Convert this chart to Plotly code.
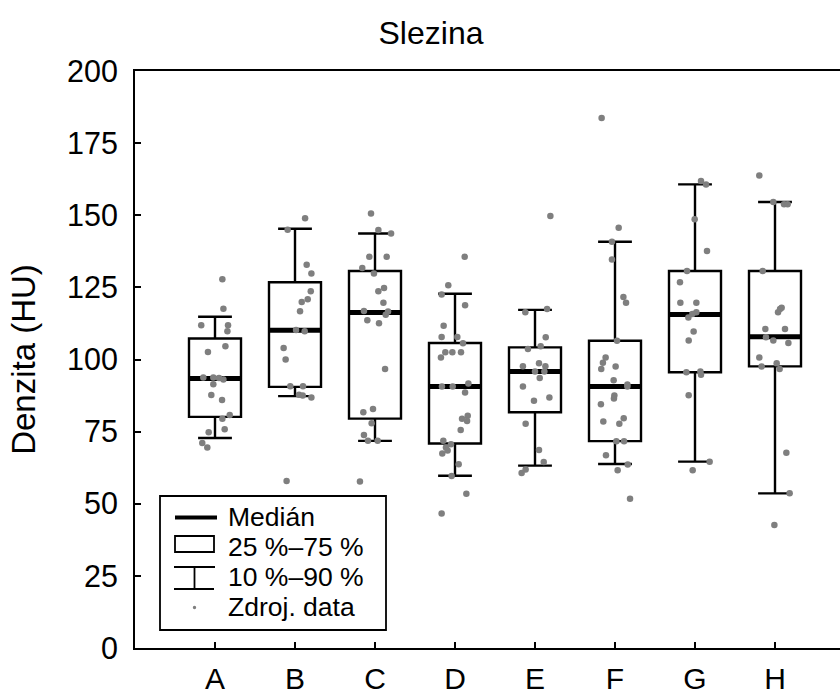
import plotly.graph_objects as go

# ---------------- data ----------------
categories = ["A", "B", "C", "D", "E", "F", "G", "H"]
q1 = [80.1, 90.5, 79.5, 70.9, 81.7, 71.7, 95.6, 97.6]
median = [93.4, 110.1, 116.3, 90.6, 95.8, 90.6, 115.6, 107.9]
q3 = [107.3, 126.8, 130.7, 105.7, 104.2, 106.5, 130.7, 130.7]
p10 = [72.8, 87.3, 71.8, 59.7, 63.2, 63.8, 64.6, 53.6]
p90 = [114.8, 145.3, 143.7, 122.8, 117.2, 140.8, 160.7, 154.6]

vals_A = [127.8, 117.6, 111.9, 111.9, 109.8, 104.6, 102.6, 93.8, 93.8, 93.6, 93.1, 91.4, 87.7, 86.0, 80.8, 79.5, 75.8, 74.8, 71.1, 69.5]
jit_A = [0.092, 0.105, -0.172, 0.163, 0.155, 0.130, -0.088, -0.146, -0.021, 0.050, 0.105, -0.021, -0.046, 0.088, 0.184, 0.092, 0.121, -0.079, -0.159, -0.096]

vals_B = [149.0, 145.0, 132.8, 129.8, 123.7, 120.9, 119.9, 116.7, 110.2, 109.8, 104.0, 100.0, 90.7, 90.7, 87.8, 87.5, 86.8, 57.9]
jit_B = [0.126, -0.092, 0.146, 0.205, 0.197, 0.159, 0.084, 0.063, 0.013, 0.121, -0.142, -0.117, -0.059, 0.100, 0.050, 0.096, 0.205, -0.105]

vals_C = [150.6, 144.9, 143.7, 135.6, 135.6, 131.7, 129.8, 124.8, 123.7, 119.7, 116.6, 115.5, 116.8, 113.6, 112.6, 96.7, 81.7, 82.8, 77.9, 73.8, 71.8, 71.8, 57.7]
jit_C = [-0.050, 0.042, 0.201, -0.071, 0.146, -0.159, -0.013, 0.113, 0.042, 0.105, 0.163, 0.134, -0.138, -0.096, 0.050, 0.126, -0.146, -0.025, -0.042, -0.138, -0.088, 0.033, -0.188]

vals_D = [135.6, 125.7, 122.5, 118.8, 111.7, 107.8, 107.8, 105.6, 100.7, 102.5, 102.5, 102.5, 90.6, 90.6, 91.7, 88.6, 80.5, 79.5, 78.7, 75.6, 71.8, 70.6, 69.5, 68.5, 67.4, 63.7, 59.6, 53.5, 46.6]
jit_D = [0.121, -0.084, -0.167, 0.126, -0.142, -0.167, 0.029, 0.100, -0.176, -0.121, -0.033, 0.075, -0.163, -0.029, 0.167, 0.126, 0.159, 0.088, 0.151, 0.071, -0.146, -0.050, -0.113, -0.092, -0.159, 0.046, -0.042, 0.142, -0.167]

vals_E = [149.7, 117.5, 116.4, 107.7, 104.6, 103.6, 97.7, 98.7, 97.7, 95.8, 95.8, 93.6, 90.6, 86.8, 85.7, 77.7, 68.6, 64.5, 61.9, 60.7]
jit_E = [0.192, 0.151, -0.121, 0.134, 0.071, -0.088, -0.151, 0.050, 0.130, 0.0, 0.117, 0.059, -0.151, 0.180, -0.013, -0.117, 0.050, 0.109, -0.117, -0.167]

vals_F = [183.7, 145.7, 140.8, 134.7, 121.7, 119.7, 106.5, 100.7, 98.9, 96.7, 97.6, 92.8, 91.3, 90.6, 87.5, 86.5, 84.5, 79.6, 78.5, 77.7, 71.7, 71.7, 66.8, 63.6, 61.6, 51.7]
jit_F = [-0.167, 0.046, -0.038, -0.038, 0.105, 0.138, 0.025, -0.117, -0.151, -0.172, 0.008, -0.017, 0.155, 0.155, -0.008, -0.013, -0.176, 0.109, -0.146, 0.054, 0.017, 0.113, -0.113, 0.159, 0.033, 0.188]

vals_G = [161.9, 160.7, 148.6, 137.6, 130.7, 126.8, 119.7, 119.7, 116.4, 115.8, 114.6, 109.7, 106.6, 95.6, 95.8, 94.7, 87.6, 64.6, 61.6]
jit_G = [0.075, 0.138, -0.004, 0.150, -0.100, -0.188, -0.183, 0.017, 0.017, -0.033, -0.083, -0.017, -0.079, -0.108, 0.067, 0.075, -0.079, 0.183, -0.029]

vals_H = [163.8, 154.6, 153.8, 153.8, 130.7, 117.5, 117.9, 116.4, 110.6, 110.6, 107.7, 106.6, 105.7, 100.7, 97.6, 98.7, 96.7, 67.7, 53.6, 42.6]
jit_H = [-0.196, -0.021, 0.113, 0.158, -0.154, 0.063, 0.083, 0.038, -0.121, 0.125, -0.113, -0.021, 0.167, -0.196, -0.167, 0.021, 0.058, 0.142, 0.183, -0.008]

y_ticks = [0, 25, 50, 75, 100, 125, 150, 175, 200]
legend_labels = ["Medián", "25 %\u201375 %", "10 %\u201390 %", "Zdroj. data"]
title_text = "Slezina"
y_title = "Denzita (HU)"

all_vals = [vals_A, vals_B, vals_C, vals_D, vals_E, vals_F, vals_G, vals_H]
all_jit = [jit_A, jit_B, jit_C, jit_D, jit_E, jit_F, jit_G, jit_H]

# ---------------- layout constants ----------------
W, H = 840, 697
ML, MR, MT, MB = 135, 0, 71, 49
PW, PH = W - ML - MR, H - MT - MB
FONT = "Arial, 'Liberation Sans', Helvetica, sans-serif"
BOXW = 0.65
POS = list(range(len(categories)))


def px(x):
    return (x - ML) / PW


def py(y):
    return (H - MB - y) / PH


fig = go.Figure()

fig.add_trace(go.Box(
    x=POS, q1=q1, median=median, q3=q3, lowerfence=p10, upperfence=p90,
    width=BOXW, whiskerwidth=0.65, fillcolor="white",
    line=dict(color="black", width=2.4), boxpoints=False,
    hoverinfo="skip", showlegend=False,
))

mx, my = [], []
for p, m in zip(POS, median):
    mx += [p - BOXW / 2, p + BOXW / 2, None]
    my += [m, m, None]
fig.add_trace(go.Scatter(x=mx, y=my, mode="lines",
                         line=dict(color="black", width=5),
                         hoverinfo="skip", showlegend=False))

sx, sy = [], []
for p, vals, jit in zip(POS, all_vals, all_jit):
    sx += [p + j for j in jit]
    sy += vals
fig.add_trace(go.Scatter(x=sx, y=sy, mode="markers",
                         marker=dict(color="#7f7f7f", size=6.5, line=dict(width=0)),
                         hoverinfo="skip", showlegend=False))

# ---------------- custom legend ----------------
shapes = []
lw = 1.8
shapes.append(dict(type="rect", xref="paper", yref="paper",
                   x0=px(160), x1=px(386), y0=py(630), y1=py(496),
                   line=dict(color="black", width=lw), fillcolor="white", layer="above"))
# median symbol
shapes.append(dict(type="line", xref="paper", yref="paper",
                   x0=px(175), x1=px(217), y0=py(517.5), y1=py(517.5),
                   line=dict(color="black", width=4), layer="above"))
# box symbol
shapes.append(dict(type="rect", xref="paper", yref="paper",
                   x0=px(175), x1=px(214), y0=py(552), y1=py(536),
                   line=dict(color="black", width=lw), layer="above"))
# whisker symbol
for (a, b, c, d) in [(174, 567, 215, 567), (194.5, 567, 194.5, 589), (174, 589, 214, 589)]:
    shapes.append(dict(type="line", xref="paper", yref="paper",
                       x0=px(a), x1=px(c), y0=py(b), y1=py(d),
                       line=dict(color="black", width=lw), layer="above"))
# dot symbol
shapes.append(dict(type="circle", xref="paper", yref="paper",
                   x0=px(192.8), x1=px(196.2), y0=py(609.2), y1=py(605.8),
                   line=dict(width=0), fillcolor="#7f7f7f", layer="above"))

annotations = []
for lab, yc in zip(legend_labels, [517, 547, 577, 607]):
    annotations.append(dict(text=lab, xref="paper", yref="paper",
                            x=px(226), y=py(yc), xanchor="left", yanchor="middle",
                            showarrow=False, font=dict(family=FONT, size=26.5, color="black")))

fig.update_layout(
    width=W, height=H,
    margin=dict(l=ML, r=MR, t=MT, b=MB, pad=0, autoexpand=False),
    paper_bgcolor="white", plot_bgcolor="white",
    shapes=shapes, annotations=annotations,
    showlegend=False,
    title=dict(text=title_text, xref="container", yref="container",
               x=431 / W, y=1 - 33 / H, xanchor="center", yanchor="middle",
               font=dict(family=FONT, size=32, color="black")),
    font=dict(family=FONT, color="black"),
)

fig.update_xaxes(
    range=[-1, -1 + PW / 80.0], tickmode="array", tickvals=POS, ticktext=categories,
    showgrid=False, zeroline=False, automargin=False,
    showline=True, linecolor="black", linewidth=2, mirror=True,
    ticks="inside", ticklen=6, tickwidth=2, tickcolor="black",
    tickfont=dict(family=FONT, size=30, color="black"),
    ticklabelstandoff=3,
)
fig.update_yaxes(
    range=[0, 200], tickmode="array", tickvals=y_ticks,
    showgrid=False, zeroline=False, automargin=False,
    showline=True, linecolor="black", linewidth=2, mirror=False,
    ticks="inside", ticklen=6, tickwidth=2, tickcolor="black",
    tickfont=dict(family=FONT, size=30.5, color="black"),
    ticklabelstandoff=9,
    title=dict(text=y_title, font=dict(family=FONT, size=33, color="black"), standoff=21),
)

fig.write_html("out.html")
